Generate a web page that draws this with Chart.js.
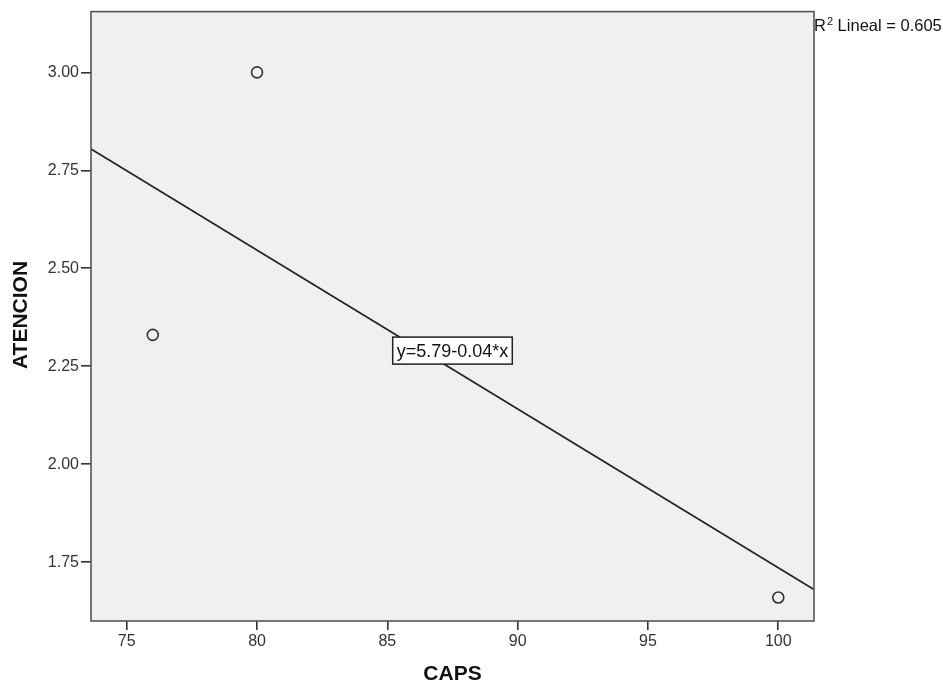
<!DOCTYPE html>
<html>
<head>
<meta charset="utf-8">
<script src="https://cdn.jsdelivr.net/npm/chart.js@4/dist/chart.umd.min.js"></script>
<style>
  html, body { margin: 0; padding: 0; background: #ffffff; }
  #wrap { width: 943px; height: 685px; }
</style>
</head>
<body>
<div id="wrap"><canvas id="c" width="943" height="685"></canvas></div>
<script>
// ---- data ----
const capsValues = [76, 80, 100];
const atencionValues = [2.33, 3.00, 1.66];
const xTickValues = [75, 80, 85, 90, 95, 100];
const yTickValues = [1.75, 2.00, 2.25, 2.50, 2.75, 3.00];
const xRange = [73.63, 101.37];
const yRange = [1.60, 3.155];
const xTitle = 'CAPS';
const yTitle = 'ATENCION';
const fitLabel = 'y=5.79-0.04*x';
const r2Label = 'Lineal = 0.605';

// least-squares fit line across the x range
const n = capsValues.length;
const mx = capsValues.reduce((a, b) => a + b, 0) / n;
const my = atencionValues.reduce((a, b) => a + b, 0) / n;
let sxy = 0, sxx = 0;
for (let i = 0; i < n; i++) {
  sxy += (capsValues[i] - mx) * (atencionValues[i] - my);
  sxx += (capsValues[i] - mx) ** 2;
}
const slope = sxy / sxx;
const intercept = my - slope * mx;
const fitLine = xRange.map(x => ({ x: x, y: intercept + slope * x }));
const points = capsValues.map((x, i) => ({ x: x, y: atencionValues[i] }));

const FONT = '"Liberation Sans", Arial, sans-serif';

const framePlugin = {
  id: 'frame',
  beforeDatasetsDraw(chart) {
    const { ctx, chartArea: a } = chart;
    ctx.save();
    ctx.fillStyle = '#f0f0f0';
    ctx.fillRect(a.left, a.top, a.right - a.left, a.bottom - a.top);
    ctx.restore();
  },
  afterDraw(chart) {
    const { ctx, chartArea: a, scales } = chart;
    ctx.save();
    // frame
    ctx.strokeStyle = '#555555';
    ctx.lineWidth = 1.6;
    ctx.strokeRect(a.left, a.top, a.right - a.left, a.bottom - a.top);

    // fit label box
    ctx.font = '18px ' + FONT;
    const tw = ctx.measureText(fitLabel).width;
    const cx = scales.x.getPixelForValue(87.5);
    const cy = scales.y.getPixelForValue(2.29);
    const bw = tw + 8, bh = 27;
    ctx.fillStyle = '#ffffff';
    ctx.fillRect(cx - bw / 2, cy - bh / 2, bw, bh);
    ctx.strokeStyle = '#222222';
    ctx.lineWidth = 1.5;
    ctx.strokeRect(cx - bw / 2, cy - bh / 2, bw, bh);
    ctx.fillStyle = '#111111';
    ctx.textAlign = 'center';
    ctx.textBaseline = 'middle';
    ctx.fillText(fitLabel, cx, cy + 1);

    // R² label
    ctx.textAlign = 'left';
    ctx.textBaseline = 'alphabetic';
    const rx = a.right, ry = 31;
    ctx.font = '16.5px ' + FONT;
    ctx.fillText('R', rx, ry);
    const rw = ctx.measureText('R').width;
    ctx.font = '11px ' + FONT;
    ctx.fillText('2', rx + rw + 1, ry - 6.5);
    const sw = ctx.measureText('2').width;
    ctx.font = '16.5px ' + FONT;
    ctx.fillText(' ' + r2Label, rx + rw + 1 + sw, ry);

    // axis titles
    ctx.fillStyle = '#111111';
    ctx.font = 'bold 21px ' + FONT;
    ctx.textAlign = 'center';
    ctx.textBaseline = 'middle';
    ctx.fillText(xTitle, 452.5, 674);
    ctx.translate(21, 315);
    ctx.rotate(-Math.PI / 2);
    ctx.fillText(yTitle, 0, 0);
    ctx.restore();
  }
};

new Chart(document.getElementById('c'), {
  type: 'scatter',
  data: {
    datasets: [
      {
        type: 'line',
        data: fitLine,
        borderColor: '#222222',
        borderWidth: 1.7,
        pointRadius: 0,
        fill: false,
        tension: 0,
        order: 2
      },
      {
        data: points,
        pointStyle: 'circle',
        pointRadius: 5.5,
        pointBorderWidth: 1.6,
        borderColor: '#333333',
        backgroundColor: 'rgba(0,0,0,0)',
        order: 1
      }
    ]
  },
  options: {
    responsive: false,
    animation: false,
    devicePixelRatio: 1,
    layout: { padding: { left: 0, right: 129, top: 11, bottom: 0 } },
    plugins: { legend: { display: false }, tooltip: { enabled: false } },
    scales: {
      x: {
        type: 'linear',
        min: xRange[0],
        max: xRange[1],
        afterBuildTicks(s) { s.ticks = xTickValues.map(v => ({ value: v })); },
        afterFit(s) { s.height = 64; },
        border: { display: false },
        grid: { drawOnChartArea: false, drawTicks: true, tickLength: 9, color: '#333333', lineWidth: 1.6 },
        ticks: {
          padding: 2,
          color: '#333333',
          font: { family: FONT, size: 16 },
          callback: v => String(v)
        }
      },
      y: {
        type: 'linear',
        min: yRange[0],
        max: yRange[1],
        afterBuildTicks(s) { s.ticks = yTickValues.map(v => ({ value: v })); },
        afterFit(s) { s.width = 91; },
        border: { display: false },
        grid: { drawOnChartArea: false, drawTicks: true, tickLength: 10, color: '#333333', lineWidth: 1.6 },
        ticks: {
          padding: 2,
          color: '#333333',
          font: { family: FONT, size: 16 },
          callback: v => Number(v).toFixed(2)
        }
      }
    }
  },
  plugins: [framePlugin]
});
</script>
</body>
</html>
